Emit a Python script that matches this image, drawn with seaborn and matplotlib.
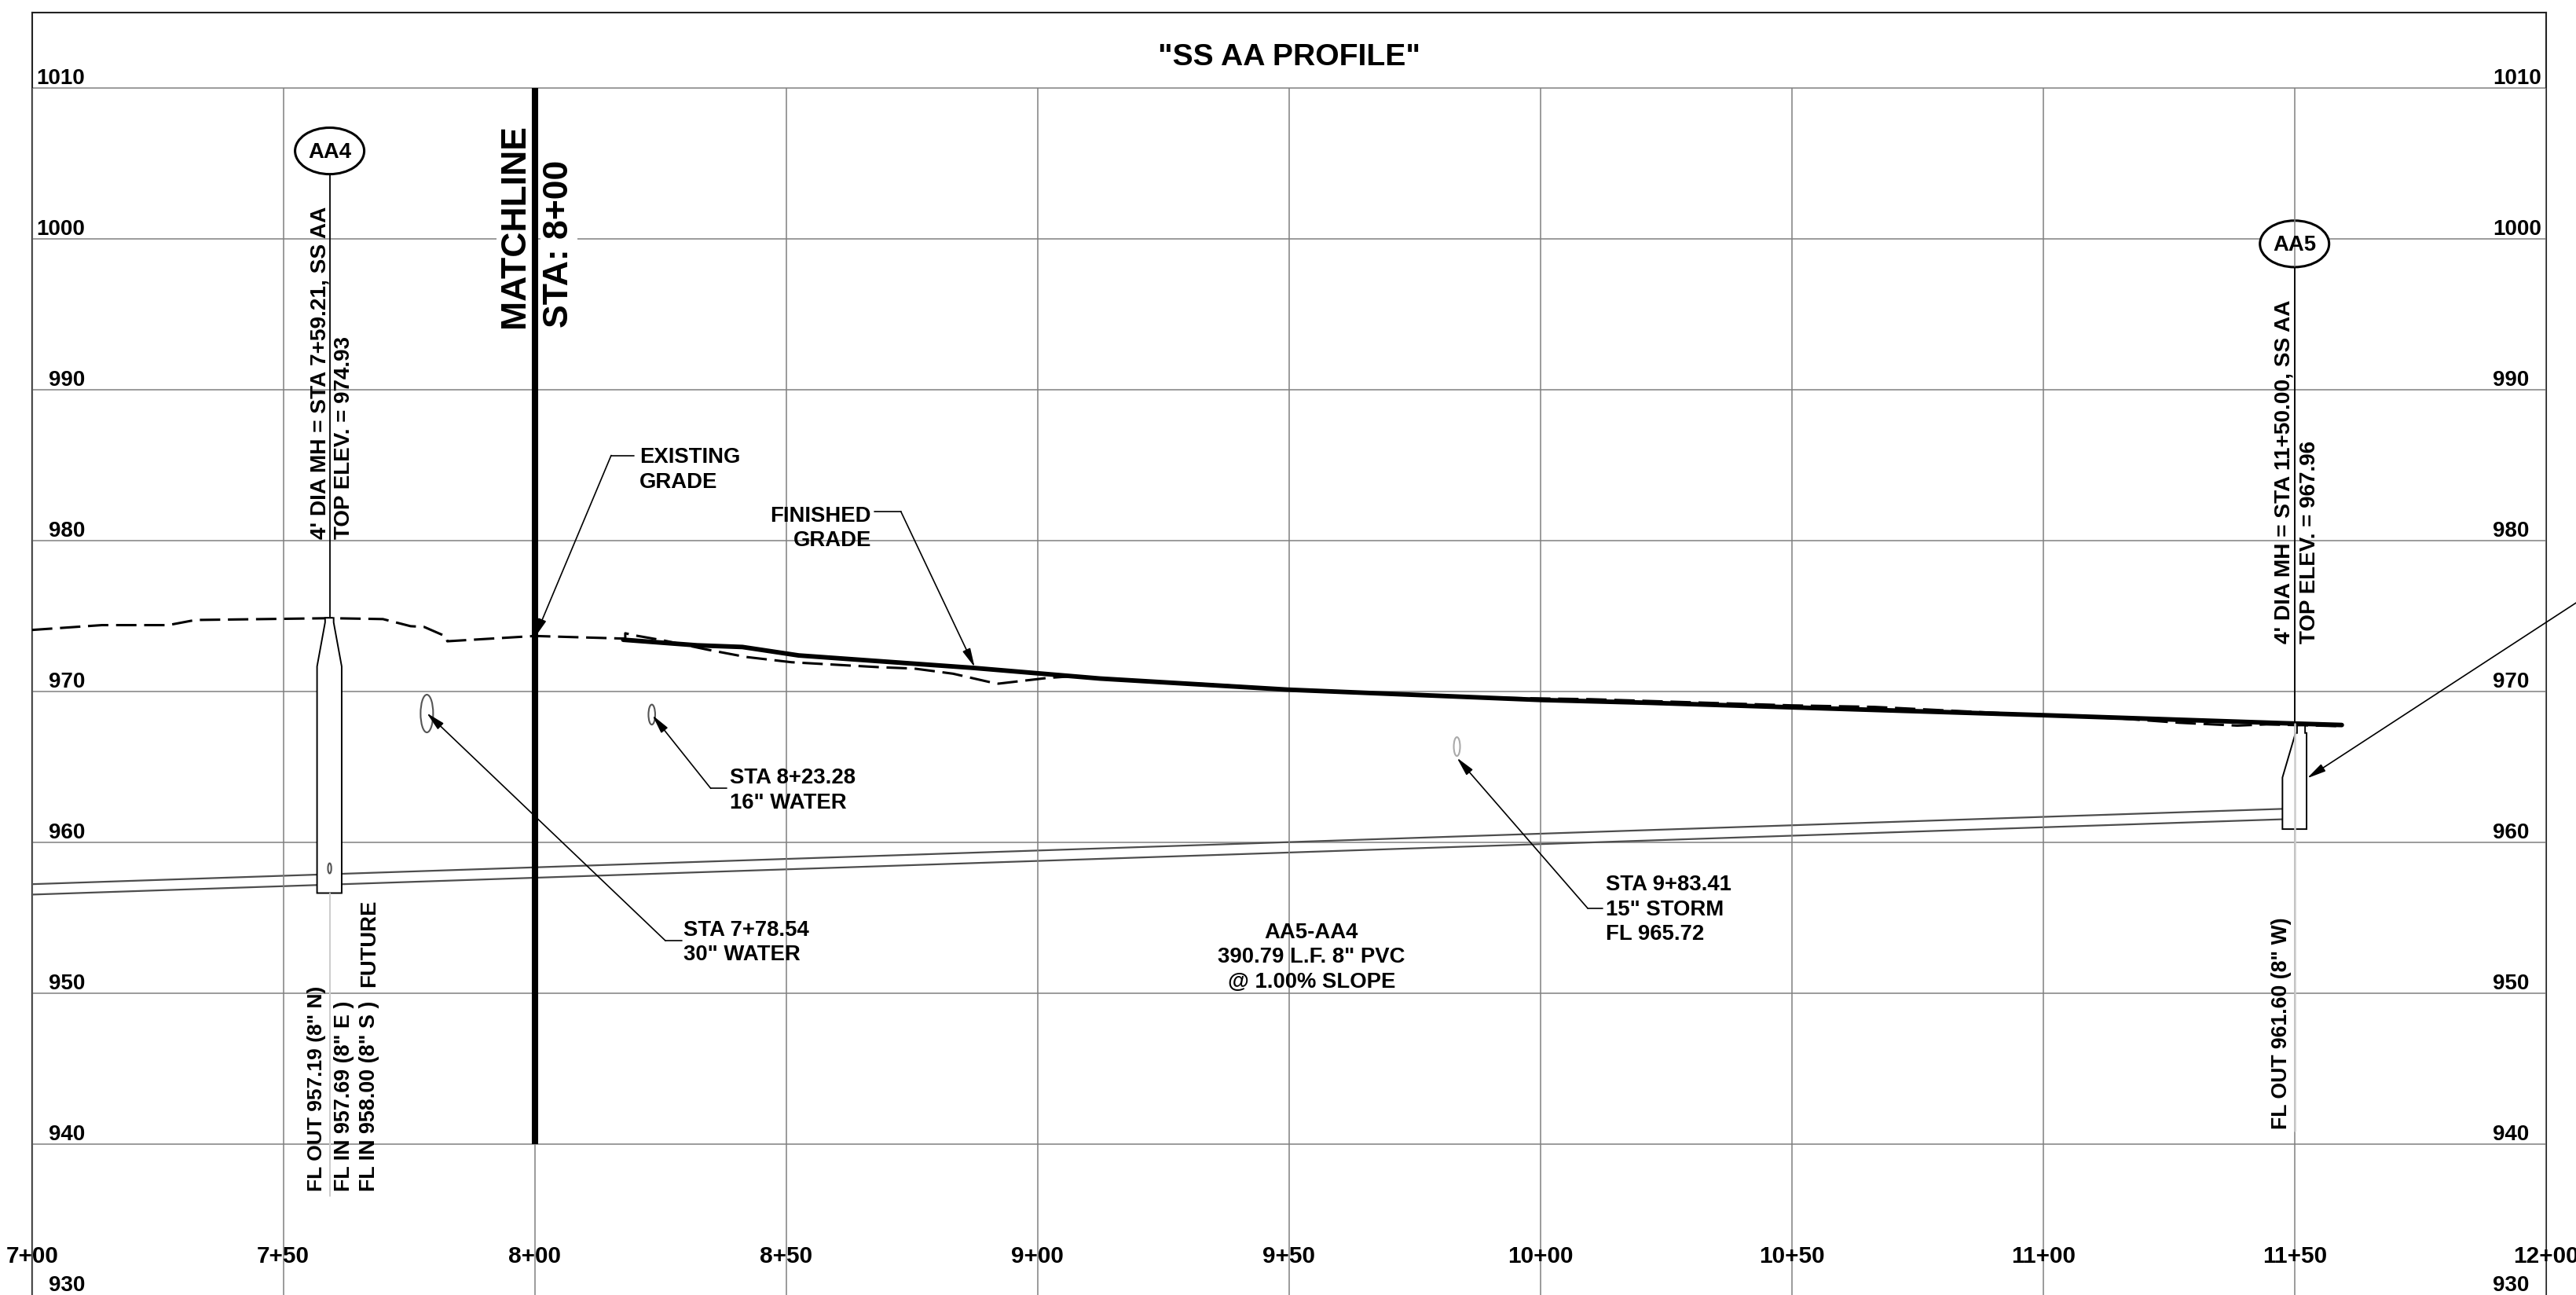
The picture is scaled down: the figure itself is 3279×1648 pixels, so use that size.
"""SS AA sewer profile sheet, stations 7+00 to 12+00."""
import matplotlib
matplotlib.use("Agg")
import matplotlib.pyplot as plt
from matplotlib.patches import Ellipse
import seaborn as sns

# ── Axis values ───────────────────────────────────────────────────────────────
STATIONS   = [700, 750, 800, 850, 900, 950, 1000, 1050, 1100, 1150, 1200]
STA_LABELS = ["7+00", "7+50", "8+00", "8+50", "9+00", "9+50",
              "10+00", "10+50", "11+00", "11+50", "12+00"]
ELEVATIONS = [1010, 1000, 990, 980, 970, 960, 950, 940, 930]

# ── Profile lines (station, elevation) ────────────────────────────────────────
EXIST_STA  = [700, 713.9, 727.1, 732.5, 759.4, 769.8, 775.3, 778, 782.4, 782.6, 800, 817.5, 818, 818,
              819.7, 825.7, 834.4, 842, 851.1, 868.6, 875.5, 883.2, 890.8, 892.2, 902, 907, 912.4,
              936.3, 950, 988, 1010, 1050, 1066.4, 1100, 1115.5, 1127, 1138.6, 1144.4, 1159.4]
EXIST_ELEV = [974.1, 974.42, 974.42, 974.76, 974.88, 974.82, 974.35, 974.3, 973.66, 973.35, 973.7, 973.53, 973.5, 973.88,
              973.75, 973.4, 972.79, 972.31, 971.96, 971.63, 971.54, 971.2, 970.62, 970.54, 970.92, 971.03, 970.88,
              970.46, 970.14, 969.62, 969.51, 969.1, 969.0, 968.45, 968.23, 967.95, 967.76, 967.84, 967.72]

FINISH_STA  = [817.6, 832.3, 841.3, 852.5, 887.4, 912.4, 949.9, 1000, 1021.8, 1050, 1100, 1146.8, 1159.4]
FINISH_ELEV = [973.45, 973.08, 972.97, 972.41, 971.58, 970.88, 970.14, 969.46, 969.27, 968.97, 968.45, 967.93, 967.8]

PIPE_STA   = [700, 1147.5]
PIPE_CROWN = [957.25, 962.24]
PIPE_INV   = [956.56, 961.55]

# ── Manholes ──────────────────────────────────────────────────────────────────
AA4_STA  = [756.7, 756.7, 758.3, 758.3, 760, 760, 761.6, 761.6]
AA4_ELEV = [956.66, 971.68, 974.6, 974.9, 974.9, 974.6, 971.68, 956.66]
AA5_STA  = [1147.6, 1147.6, 1150.2, 1150.5, 1150.5, 1152.1, 1152.1, 1152.4, 1152.4]
AA5_ELEV = [960.9, 964.32, 967.27, 967.27, 967.76, 967.76, 967.27, 967.27, 960.9]

# ── Utility crossings: station, elevation, diameter (ft), colour ──────────────
CROSSINGS = [(778.54, 968.56, 2.5, "#555555"),
             (823.28, 968.49, 1.33, "#555555"),
             (983.41, 966.37, 1.25, "#aaaaaa"),
             (759.2, 958.3, 0.67, "#555555")]

# ── Rotated notes: text, baseline station, start elevation, font size ─────────
VERTICAL_NOTES = [("4' DIA MH = STA 7+59.21, SS AA", 758.4, 980.13, 20.2),
                  ("TOP ELEV. = 974.93", 763.2, 980.13, 20),
                  ('FL OUT 957.19 (8" N)', 757.7, 936.88, 19),
                  ('FL IN 957.69 (8" E )', 763.2, 936.88, 19.4),
                  ('FL IN 958.00 (8" S )', 768.2, 936.88, 19.4),
                  ("FUTURE", 768.2, 950.43, 19.8),
                  ("4' DIA MH = STA 11+50.00, SS AA", 1149.05, 973.18, 20.2),
                  ("TOP ELEV. = 967.96", 1154.1, 973.18, 20),
                  ('FL OUT 961.60 (8" W)', 1148.5, 941.0, 19.2)]

# ── Leaders: landing end, knee, arrow head (station, elevation) ───────────────
LEADERS = [((819.8, 985.67), (815.2, 985.67), (800, 973.6)),
           ((867.5, 981.96), (872.8, 981.96), (887.5, 971.63)),
           ((829.2, 953.5), (826.0, 953.5), (778.5, 968.6)),
           ((838.1, 963.6), (835.0, 963.6), (823.4, 968.45)),
           ((1012.4, 955.66), (1009.4, 955.66), (983.4, 965.63))]
AA5_ARROW_TAIL = (1206.1, 975.92)
AA5_ARROW_HEAD = (1152.5, 964.27)

GRID  = "#808080"
INK   = "#000000"
FONT  = 19.8

sns.set_theme(style="white")
plt.rcParams["font.family"] = ["Liberation Sans", "DejaVu Sans"]
plt.rcParams["font.weight"] = "bold"
plt.rcParams["text.color"] = INK

fig = plt.figure(figsize=(32.8, 16.48), dpi=100)
ax = fig.add_axes([40.7 / 3280, 0, 3200 / 3280, 1632 / 1648])
ax.set_xlim(700, 1200)
ax.set_ylim(930.02, 1015.02)
ax.set_xticks([])
ax.set_yticks([])
ax.spines["bottom"].set_visible(False)
for side in ("left", "right", "top"):
    ax.spines[side].set_color("#222222")
    ax.spines[side].set_linewidth(1.5)

# grid stops at the 1010 line, the frame carries on to the top
ax.hlines(ELEVATIONS[:-1], 700, 1200, color=GRID, lw=1.1, zorder=1)
ax.vlines(STATIONS, 930.02, 1010, color=GRID, lw=1.1, zorder=3)

# pipe and grade
for elev in (PIPE_CROWN, PIPE_INV):
    sns.lineplot(x=PIPE_STA, y=elev, ax=ax, color="#4d4d4d", linewidth=1.6,
                 estimator=None, sort=False, legend=False, zorder=2)
sns.lineplot(x=EXIST_STA, y=EXIST_ELEV, ax=ax, color=INK, linewidth=2.2,
             linestyle=(0, (8.5, 3.2)), estimator=None, sort=False, legend=False, zorder=4)
sns.lineplot(x=FINISH_STA, y=FINISH_ELEV, ax=ax, color=INK, linewidth=4.2,
             estimator=None, sort=False, legend=False, zorder=5,
             solid_capstyle="round")

# matchline
sns.lineplot(x=[800, 800], y=[940, 1010], ax=ax, color=INK, linewidth=5.8,
             estimator=None, sort=False, legend=False, zorder=6, solid_capstyle="butt")

# manholes
ax.fill(AA4_STA, AA4_ELEV, facecolor="white", edgecolor=INK, lw=1.4, zorder=4)
ax.fill(AA5_STA, AA5_ELEV, facecolor="white", edgecolor=INK, lw=1.4, zorder=4)
ax.plot([759.2, 759.2], [956.66, 936.6], color="#cccccc", lw=1.4, zorder=4)
ax.plot([1150, 1150], [967.9, 940.9], color="#cccccc", lw=1.8, zorder=5)
ax.plot([759.2, 759.2], [974.9, 1004.31], color=INK, lw=1.3, zorder=4)
ax.plot([1150, 1150], [967.9, 998.15], color=INK, lw=1.3, zorder=4)

for sta, elev, label in [(759.2, 1005.85, "AA4"), (1150, 999.69, "AA5")]:
    ax.add_patch(Ellipse((sta, elev), 13.75, 3.08, facecolor="white",
                         edgecolor=INK, lw=2.2, zorder=2))
    ax.text(sta, elev - 0.08, label, ha="center", va="center", fontsize=FONT, zorder=8)

for sta, elev, dia, col in CROSSINGS:
    ax.add_patch(Ellipse((sta, elev), dia, dia, facecolor="none",
                         edgecolor=col, lw=1.5, zorder=5))

# leaders
head = dict(arrowstyle="-|>,head_length=1.45,head_width=0.32", color=INK, lw=1.2,
            mutation_scale=10, shrinkA=0, shrinkB=0)
for land, knee, tip in LEADERS:
    ax.plot([land[0], knee[0]], [land[1], knee[1]], color=INK, lw=1.2, zorder=6)
    ax.annotate("", xy=tip, xytext=knee, arrowprops=head, zorder=7)
ax.annotate("", xy=AA5_ARROW_HEAD, xytext=AA5_ARROW_TAIL, arrowprops=head,
            annotation_clip=False, zorder=7)

# axis labels drawn inside the sheet
for elev in ELEVATIONS:
    ax.text(710.5, elev + 0.29, str(elev), ha="right", va="baseline", fontsize=20, zorder=8)
    ax.text(1189.4, elev + 0.29, str(elev), ha="left", va="baseline", fontsize=20, zorder=8)
for sta, label in zip(STATIONS, STA_LABELS):
    ax.text(sta, 932.15, label, ha="center", va="baseline", fontsize=21.4, zorder=8)

ax.text(950, 1011.53, '"SS AA PROFILE"', ha="center", va="baseline", fontsize=28.2)

for label, sta, elev, size in VERTICAL_NOTES:
    ax.text(sta, elev, label, rotation=90, ha="left", va="baseline",
            rotation_mode="anchor", fontsize=size, zorder=8)

white_box = dict(facecolor="white", edgecolor="none", pad=2)
ax.text(797.8, 994.13, "MATCHLINE", rotation=90, ha="left", va="baseline",
        rotation_mode="anchor", fontsize=32, bbox=white_box, zorder=2)
ax.text(806.6, 994.13, "STA: 8+00", rotation=90, ha="left", va="baseline",
        rotation_mode="anchor", fontsize=32, bbox=white_box, zorder=2)

block = dict(fontsize=FONT, va="center", linespacing=1.27, zorder=8)
ax.text(820.8, 984.7, "EXISTING\nGRADE", ha="left", **block)
ax.text(866.9, 980.83, "FINISHED\nGRADE", ha="right", multialignment="right", **block)
ax.text(838.8, 963.45, 'STA 8+23.28\n16" WATER', ha="left", **block)
ax.text(829.6, 953.37, 'STA 7+78.54\n30" WATER', ha="left", **block)
ax.text(1013.0, 955.55, 'STA 9+83.41\n15" STORM\nFL 965.72', ha="left", **block)
ax.text(954.5, 952.4, 'AA5-AA4\n390.79 L.F. 8" PVC\n@ 1.00% SLOPE', ha="center",
        multialignment="center", **block)

fig.savefig("out.png", dpi=100, facecolor="white")
